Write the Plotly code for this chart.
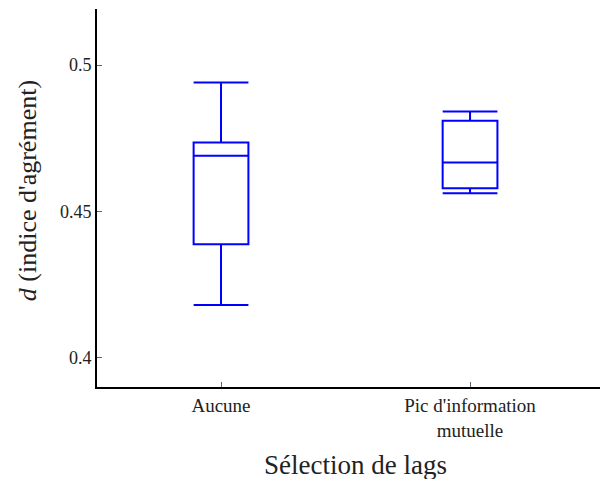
import plotly.graph_objects as go

categories = ["Aucune", "Pic d'information<br>mutuelle"]
lower = [0.4180, 0.4562]
q1 = [0.4388, 0.4579]
median = [0.4690, 0.4667]
q3 = [0.4736, 0.4810]
upper = [0.4941, 0.4842]

serif = "Liberation Serif, DejaVu Serif, serif"

fig = go.Figure()
fig.add_trace(go.Box(
    x=[0, 1], q1=q1, median=median, q3=q3,
    lowerfence=lower, upperfence=upper,
    width=0.22, whiskerwidth=1,
    line=dict(color="#0000ff", width=2),
    fillcolor="rgba(0,0,0,0)",
    boxpoints=False, showlegend=False, hoverinfo="skip",
))

# page body has an 8px margin, so the figure is shifted by that much
fig.update_layout(
    width=600, height=471,
    margin=dict(l=89, r=0, t=1, b=92),
    plot_bgcolor="white", paper_bgcolor="white",
    font=dict(family=serif, color="#222"),
)
fig.update_xaxes(
    range=[-0.498, 1.554],
    tickvals=[0, 1], ticktext=categories,
    tickfont=dict(size=19, family=serif),
    showline=True, linecolor="black", linewidth=2,
    ticks="inside", ticklen=5, tickcolor="#666", tickwidth=1,
    showgrid=False, zeroline=False,
)
fig.update_yaxes(
    range=[0.390, 0.5192],
    tickvals=[0.4, 0.45, 0.5], ticktext=["0.4", "0.45", "0.5"],
    tickfont=dict(size=18, family=serif),
    showline=True, linecolor="black", linewidth=2,
    ticks="inside", ticklen=5, tickcolor="#666", tickwidth=1,
    showgrid=False, zeroline=False,
)
fig.add_annotation(
    text="<i>d</i> (indice d'agrément)", xref="paper", yref="paper",
    x=0, y=0.518, xshift=-70, textangle=-90, xanchor="center", yanchor="middle",
    showarrow=False, font=dict(size=26, family=serif, color="#222"),
)
fig.add_annotation(
    text="Sélection de lags", xref="paper", yref="paper",
    x=0.505, y=0, yshift=-78, xanchor="center", yanchor="middle",
    showarrow=False, font=dict(size=27, family=serif, color="#222"),
)

fig.write_html("out.html")
